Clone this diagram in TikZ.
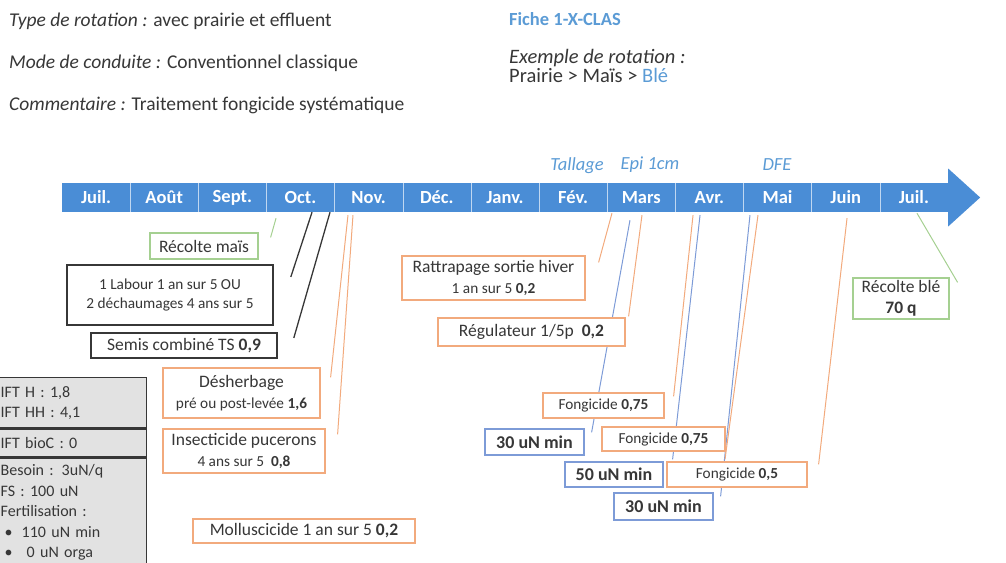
\documentclass[tikz,border=0pt]{standalone}
\usepackage{fontspec}
\setmainfont{Carlito}
\usetikzlibrary{backgrounds}

\definecolor{barblue}{RGB}{74,141,214}
\definecolor{lightblue}{RGB}{91,155,213}
\definecolor{orangeline}{RGB}{242,170,125}
\definecolor{blueline}{RGB}{125,155,215}
\definecolor{greenline}{RGB}{165,208,145}
\definecolor{darkline}{RGB}{55,55,55}
\definecolor{panelgray}{RGB}{226,226,226}
\definecolor{textgray}{RGB}{55,55,55}

\newcommand{\fsz}[2]{\fontsize{#1}{#2}\selectfont}

\tikzset{
    month/.style={fill=barblue, text=white, font=\fsz{18.5}{20}\bfseries,
        minimum width=68.15pt, minimum height=29pt, inner sep=0pt},
    sep/.style={white!65!barblue, line width=0.8pt},
    boite/.style={fill=white, line width=1.2pt, inner sep=0pt, align=center,
        text=textgray, font=\fsz{17.5}{21}},
    obox/.style={boite, draw=orangeline},
    bbox/.style={boite, draw=blueline, font=\fsz{18}{20}\bfseries},
    gbox/.style={boite, draw=greenline},
    kbox/.style={boite, draw=darkline, line width=1.6pt},
    panel/.style={fill=panelgray, draw=darkline, line width=1.4pt, anchor=north west,
        align=left, text width=142pt, inner xsep=4pt, inner ysep=0pt,
        text=textgray, font=\fsz{16}{20}},
    titre/.style={anchor=base west, inner sep=0pt, text=textgray, font=\fsz{19.5}{21}},
    stade/.style={text=lightblue, font=\fsz{18.5}{20}\itshape},
    oline/.style={orangeline, line width=1pt},
    bline/.style={blueline, line width=1pt},
    gline/.style={greenline, line width=1pt},
    kline/.style={darkline, line width=1.3pt}
}

\begin{document}
\begin{tikzpicture}[x=1pt, y=-1pt]
    \useasboundingbox (0,0) rectangle (1006,562);

    % 标题文字
    \node[titre] (type) at (9,26) {\textit{Type de rotation :} avec prairie et effluent};
    \node[titre] (mode) at (9,68) {\textit{Mode de conduite :} Conventionnel classique};
    \node[titre] (comm) at (9,110) {\textit{Commentaire :} Traitement fongicide systématique};
    \node[titre, text=lightblue, font=\fsz{18.5}{20}\bfseries] (fiche) at (509,25) {Fiche 1-X-CLAS};
    \node[titre, font=\fsz{20.5}{21}] (exemple) at (509,63) {\textit{Exemple de rotation :}};
    \node[titre, font=\fsz{20.5}{21}] (prairie) at (509,82) {Prairie > Maïs > \textcolor{lightblue}{Blé}};

    % 月份时间轴
    \foreach \m [count=\i] in {Juil., Août, Sept., Oct., Nov., Déc., Janv., Fév., Mars, Avr., Mai, Juin, Juil.}
        \node[month] (m\i) at ({62+68.15*(\i-0.5)}, 197.5) {\m};
    \foreach \i in {1,...,12}
        \draw[sep] (m\i.north east) -- (m\i.south east);
    \fill[barblue] ([shift={(0,-29)}]m13.east) -- ([shift={(32,0)}]m13.east)
                   -- ([shift={(0,29)}]m13.east) -- cycle;

    % 生育期
    \node[stade] (tallage) at (577,166) {Tallage};
    \node[stade] (epi) at (650,165) {Epi 1cm};
    \node[stade] (dfe) at (777,165) {DFE};

    % 各项操作
    \node[gbox, minimum width=108pt, minimum height=26pt] (mais) at (204,246) {Récolte maïs};
    \node[kbox, minimum width=206pt, minimum height=60pt, font=\fsz{15.3}{19}] (labour) at (170,295)
        {1 Labour 1 an sur 5 OU\\2 déchaumages 4 ans sur 5};
    \node[kbox, minimum width=186pt, minimum height=25pt] (semis) at (184,345.5) {Semis combiné TS \textbf{0,9}};
    \node[obox, minimum width=157pt, minimum height=50pt] (desherb) at (241.5,393)
        {Désherbage\\\fsz{15.3}{21}pré ou post-levée \textbf{1,6}};
    \node[obox, minimum width=162pt, minimum height=44pt] (insect) at (244,451)
        {Insecticide pucerons\\\fsz{15.3}{20}4 ans sur 5\ \ \textbf{0,8}};
    \node[obox, minimum width=222pt, minimum height=24pt] (mollus) at (304,531) {Molluscicide 1 an sur 5 \textbf{0,2}};
    \node[obox, minimum width=183pt, minimum height=44pt] (rattrap) at (493.5,278)
        {Rattrapage sortie hiver\\\fsz{15.3}{20}1 an sur 5 \textbf{0,2}};
    \node[obox, minimum width=187pt, minimum height=28pt] (regul) at (531.5,332) {Régulateur 1/5p\ \ \textbf{0,2}};
    \node[obox, minimum width=121pt, minimum height=25pt, font=\fsz{15.3}{17}] (fong1) at (603.5,405.5) {Fongicide \textbf{0,75}};
    \node[bbox, minimum width=99pt, minimum height=26pt] (azote1) at (534.5,442) {30 uN min};
    \node[obox, minimum width=123pt, minimum height=24pt, font=\fsz{15.3}{17}] (fong2) at (663.5,439) {Fongicide \textbf{0,75}};
    \node[bbox, minimum width=98pt, minimum height=25pt] (azote2) at (614,474.5) {50 uN min};
    \node[obox, minimum width=140pt, minimum height=25pt, font=\fsz{15.3}{17}] (fong3) at (737,474.5) {Fongicide \textbf{0,5}};
    \node[bbox, minimum width=99pt, minimum height=27pt] (azote3) at (663.5,506.5) {30 uN min};
    \node[gbox, minimum width=96pt, minimum height=41pt] (ble) at (901,298.5) {Récolte blé\\\textbf{70 q}};

    % 左侧指标
    \node[panel, minimum height=50pt] (ifth) at (-4,377) {IFT H : 1,8\\IFT HH : 4,1};
    \node[panel, minimum height=28pt] (iftbio) at (ifth.south west) {IFT bioC : 0};
    \node[panel, minimum height=108pt, font=\fsz{16}{20.5}] (besoin) at (iftbio.south west)
        {Besoin : 3uN/q\\FS : 100 uN\\Fertilisation :\\
         \hspace*{4pt}\makebox[17pt][l]{\textbullet}110 uN min\\
         \hspace*{4pt}\makebox[22pt][l]{\textbullet}0 uN orga};

    % 连线
    \begin{scope}[on background layer]
        \draw[gline] ([shift={(-24.5,6)}]m4.south) -- ([shift={(12,5)}]mais.north east);
        \draw[kline] ([shift={(11.5,0)}]m4.south) -- ([shift={(17,-18)}]labour.east);
        \draw[kline] ([shift={(29.5,0)}]m4.south) -- ([shift={(16,-7.5)}]semis.east);
        \draw[oline] ([shift={(-20.7,3)}]m5.south) -- ([shift={(10,10)}]desherb.north east);
        \draw[oline] ([shift={(-15.7,3)}]m5.south) -- ([shift={(12,6)}]insect.north east);
        \draw[oline] ([shift={(-29.3,1)}]m9.south) -- ([shift={(13,7)}]rattrap.north east);
        \draw[bline] ([shift={(-11.3,8)}]m9.south) -- ([shift={(7,4)}]azote1.north east);
        \draw[oline] ([shift={(0.7,3)}]m9.south) -- ([shift={(3,-1)}]regul.north east);
        \draw[oline] ([shift={(-16.4,3)}]m10.south) -- ([shift={(9,4)}]fong1.north east);
        \draw[bline] ([shift={(-9.4,3)}]m10.south) -- ([shift={(9,-2)}]azote2.north east);
        \draw[bline] ([shift={(-27.6,3)}]m11.south) -- ([shift={(7,4)}]azote3.north east);
        \draw[oline] ([shift={(-19.6,3)}]m11.south) -- ([shift={(-12,-2)}]fong3.north);
        \draw[oline] ([shift={(1.3,6)}]m12.south) -- ([shift={(11,3)}]fong3.north east);
        \draw[gline] ([shift={(3.1,1)}]m13.south) -- ([shift={(8,5)}]ble.north east);
    \end{scope}
\end{tikzpicture}
\end{document}
